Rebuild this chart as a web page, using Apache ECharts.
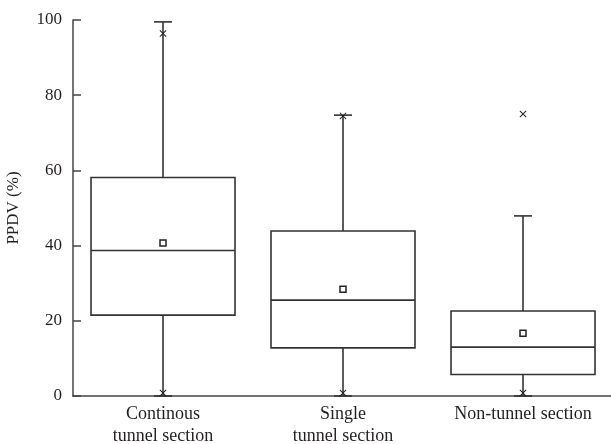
<!DOCTYPE html>
<html>
<head>
<meta charset="utf-8">
<title>PPDV box chart</title>
<script src="https://cdn.jsdelivr.net/npm/echarts@6/dist/echarts.min.js"></script>
<style>
  html, body { margin: 0; padding: 0; background: #fff; }
  #chart { width: 611px; height: 444px; }
</style>
</head>
<body>
<div id="chart"></div>
<script>
// Section categories
const categories = ['Continous\ntunnel section', 'Single\ntunnel section', 'Non-tunnel section'];

// Box statistics per section: [min, Q1, median, Q3, max]
const boxStats = [
  [0, 21.5, 38.7, 58.1, 99.5],
  [0, 12.8, 25.5, 43.9, 74.7],
  [0, 5.7, 13.0, 22.6, 47.9]
];

// Mean values
const means = [40.7, 28.4, 16.7];

// Extreme markers (×): [category index, value]
const extremes = [
  [0, 96.4], [0, 0.8],
  [1, 74.5], [1, 0.8],
  [2, 75.0], [2, 0.8]
];

// Y axis ticks
const yTicks = { min: 0, max: 100, interval: 20 };

const fontFamily = '"Liberation Serif", "DejaVu Serif", serif';
const lineColor = '#333';
const textColor = '#231f20';

const boxData = boxStats.map((s, i) => [i].concat(s));

function renderBox(params, api) {
  const idx = api.value(0);
  const band = api.size([1, 0])[0];
  const halfBox = band * 0.4;
  const halfCap = band * 0.05;
  const pMin = api.coord([idx, api.value(1)]);
  const pQ1 = api.coord([idx, api.value(2)]);
  const pMed = api.coord([idx, api.value(3)]);
  const pQ3 = api.coord([idx, api.value(4)]);
  const pMax = api.coord([idx, api.value(5)]);
  const cx = pMed[0];
  const style = { stroke: lineColor, lineWidth: 1.6, fill: null };
  return {
    type: 'group',
    children: [
      { type: 'line', shape: { x1: cx, y1: pQ3[1], x2: cx, y2: pMax[1] }, style },
      { type: 'line', shape: { x1: cx, y1: pQ1[1], x2: cx, y2: pMin[1] }, style },
      { type: 'line', shape: { x1: cx - halfCap, y1: pMax[1], x2: cx + halfCap, y2: pMax[1] }, style },
      { type: 'line', shape: { x1: cx - halfCap, y1: pMin[1], x2: cx + halfCap, y2: pMin[1] }, style },
      { type: 'rect', shape: { x: cx - halfBox, y: pQ3[1], width: halfBox * 2, height: pQ1[1] - pQ3[1] },
        style: { stroke: lineColor, lineWidth: 1.6, fill: '#fff' } },
      { type: 'line', shape: { x1: cx - halfBox, y1: pMed[1], x2: cx + halfBox, y2: pMed[1] }, style }
    ]
  };
}

const chart = echarts.init(document.getElementById('chart'), null, { renderer: 'canvas' });

chart.setOption({
  animation: false,
  backgroundColor: '#fff',
  grid: { left: 73, top: 20, bottom: 48, width: 540, outerBoundsMode: 'none', containLabel: false },
  xAxis: {
    type: 'category',
    data: categories,
    boundaryGap: true,
    axisLine: { show: true, lineStyle: { color: '#444', width: 1.5 } },
    axisTick: { show: false },
    axisLabel: {
      color: textColor, fontFamily, fontSize: 18, lineHeight: 22, margin: 7, interval: 0
    },
    splitLine: { show: false }
  },
  yAxis: {
    type: 'value',
    min: yTicks.min,
    max: yTicks.max,
    interval: yTicks.interval,
    name: 'PPDV (%)',
    nameLocation: 'middle',
    nameGap: 51,
    nameTextStyle: { color: textColor, fontFamily, fontSize: 17 },
    axisLine: { show: true, lineStyle: { color: '#444', width: 1.5 } },
    axisTick: { show: true, inside: true, length: 8, lineStyle: { color: '#444', width: 1.5 } },
    axisLabel: { color: textColor, fontFamily, fontSize: 17, margin: 11 },
    splitLine: { show: false }
  },
  series: [
    {
      type: 'custom',
      renderItem: renderBox,
      data: boxData,
      encode: { x: 0, y: [1, 2, 3, 4, 5] },
      z: 2
    },
    {
      type: 'scatter',
      data: means.map((m, i) => [i, m]),
      symbol: 'rect',
      symbolSize: 6,
      itemStyle: { color: '#fff', borderColor: '#222', borderWidth: 1.5, opacity: 1 },
      z: 3
    },
    {
      type: 'scatter',
      data: extremes,
      symbol: 'path://M0,1L1,0L5,4L9,0L10,1L6,5L10,9L9,10L5,6L1,10L0,9L4,5Z',
      symbolSize: 7,
      itemStyle: { color: '#222', opacity: 1 },
      z: 3
    }
  ]
});
</script>
</body>
</html>
